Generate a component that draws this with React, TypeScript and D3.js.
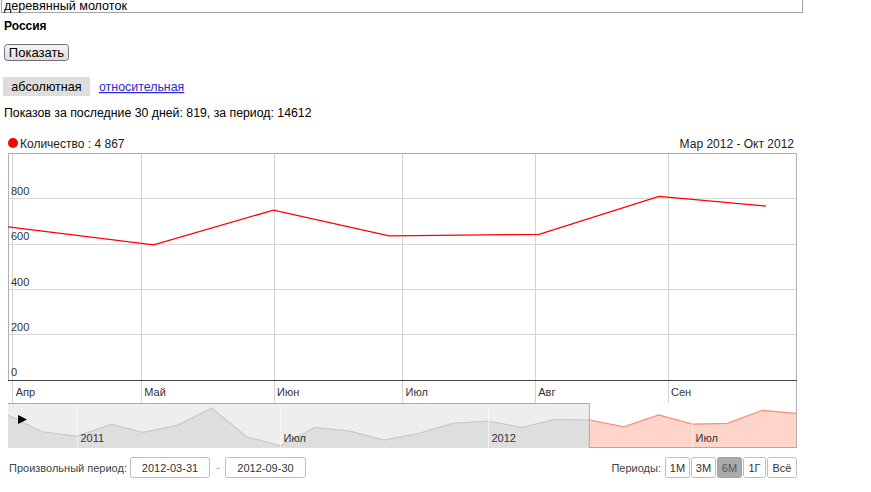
import React from 'react';
import * as d3 from 'd3';

// ---------- data ----------
const mainDates = ['2012-03-31', '2012-05-04', '2012-06-01', '2012-06-28', '2012-08-02', '2012-08-30', '2012-09-24'];
const mainValues = [674, 595, 748, 634, 641, 809, 766];
const yTicks = [0, 200, 400, 600, 800];
const monthTickDates = ['2012-04-01', '2012-05-01', '2012-06-01', '2012-07-01', '2012-08-01', '2012-09-01'];
const monthTickLabels = ['Апр', 'Май', 'Июн', 'Июл', 'Авг', 'Сен'];

const navDates = [
  '2010-11-01', '2010-12-01', '2011-01-01', '2011-02-01', '2011-03-01', '2011-04-01',
  '2011-05-01', '2011-06-01', '2011-07-01', '2011-08-01', '2011-09-01', '2011-10-01',
  '2011-11-01', '2011-12-01', '2012-01-01', '2012-02-01', '2012-03-01', '2012-04-01',
  '2012-05-01', '2012-06-01', '2012-07-01', '2012-08-01', '2012-09-01', '2012-10-01',
];
const navValues = [739, 521, 465, 617, 513, 608, 826, 456, 338, 578, 530, 413, 500, 631, 661, 578, 683, 674, 586, 739, 621, 631, 800, 761];
const navTickDates = ['2011-01-01', '2011-07-01', '2012-01-01', '2012-07-01'];
const navTickLabels = ['2011', 'Июл', '2012', 'Июл'];

const periodButtons = ['1М', '3М', '6М', '1Г', 'Всё'];
const selectedPeriod = '6М';

const parse = (s: string) => {
  const [y, m, d] = s.split('-').map(Number);
  return new Date(y, m - 1, d);
};

const FONT = '"Liberation Sans", Arial, sans-serif';

export default function App() {
  const L = 8, R = 796, T = 153, B = 380;
  const navT = 403, navB = 448;

  const x = d3.scaleTime().domain([parse('2012-03-31'), parse('2012-10-01')]).range([L, R]);
  const y = d3.scaleLinear().domain([0, 1000]).range([B - 0.3, T]);

  const navX = d3.scaleTime().domain([parse('2010-11-01'), parse('2012-10-01')]).range([L, R]);
  const navY = d3.scaleLinear().domain([310, 895]).range([navB, navT]);

  const mainPts = mainDates.map((d, i) => ({ d: parse(d), v: mainValues[i] }));
  const navPts = navDates.map((d, i) => ({ d: parse(d), v: navValues[i] }));

  const line = d3.line<{ d: Date; v: number }>().x(p => x(p.d)).y(p => y(p.v));
  const navLine = d3.line<{ d: Date; v: number }>().x(p => navX(p.d)).y(p => navY(p.v));
  const navArea = d3.area<{ d: Date; v: number }>().x(p => navX(p.d)).y0(navB).y1(p => navY(p.v));

  const selX = navX(parse('2012-03-31'));

  // period buttons layout
  const btnW = [24, 24, 24, 22, 29];
  let bx = 665.5;
  const btns = periodButtons.map((t, i) => {
    const o = { t, x: bx, w: btnW[i] };
    bx += btnW[i] + 2;
    return o;
  });

  return (
    <div style={{ position: 'absolute', left: 0, top: 0 }}>
      <svg width={871} height={492} style={{ display: 'block', fontFamily: FONT }}>
        <defs>
          <linearGradient id="btnGrad" x1="0" y1="0" x2="0" y2="1">
            <stop offset="0" stopColor="#f6f6f6" />
            <stop offset="1" stopColor="#dddddd" />
          </linearGradient>
          <clipPath id="navLeft"><rect x={L} y={navT} width={selX - L} height={navB - navT} /></clipPath>
          <clipPath id="navRight"><rect x={selX} y={navT} width={R - selX} height={navB - navT} /></clipPath>
          <clipPath id="plotClip"><rect x={L} y={T} width={R - L} height={B - T} /></clipPath>
        </defs>
        <rect x={0} y={0} width={871} height={492} fill="#fff" />

        {/* search input */}
        <rect x={1.5} y={-12} width={801} height={24.5} fill="#fff" stroke="#a5a5a5" />
        <text x={4} y={10} fontSize={12.6} fill="#000">деревянный молоток</text>
        <text x={4} y={30} fontSize={12} fontWeight="bold" fill="#000">Россия</text>

        {/* button */}
        <rect x={4.5} y={44.5} width={64} height={16} rx={3} fill="url(#btnGrad)" stroke="#707070" />
        <text x={36.5} y={57} fontSize={13} textAnchor="middle" fill="#000">Показать</text>

        {/* tabs */}
        <rect x={3} y={77} width={87} height={19} fill="#dddddd" />
        <text x={46.5} y={91} fontSize={12.6} textAnchor="middle" fill="#000">абсолютная</text>
        <text x={99} y={91} fontSize={12.4} fill="#2a2acc" textDecoration="underline">относительная</text>

        <text x={4} y={117} fontSize={12.3} fill="#000">Показов за последние 30 дней: 819, за период: 14612</text>

        {/* legend */}
        <circle cx={13} cy={143} r={5} fill="#ff0000" />
        <text x={20} y={148} fontSize={12} fill="#222">Количество : 4 867</text>
        <text x={794} y={148} fontSize={12} fill="#222" textAnchor="end">Мар 2012 - Окт 2012</text>

        {/* grid */}
        {yTicks.filter(t => t > 0).map(t => (
          <line key={'hy' + t} x1={L} x2={R} y1={Math.round(y(t)) + 0.5} y2={Math.round(y(t)) + 0.5} stroke="#d8d8d8" />
        ))}
        {monthTickDates.map(d => {
          const xx = Math.round(x(parse(d))) + 0.5;
          return <line key={'vx' + d} x1={xx} x2={xx} y1={T} y2={navT} stroke="#d4d4d4" />;
        })}

        {/* plot border */}
        <rect x={L + 0.5} y={T + 0.5} width={R - L} height={B - T} fill="none" stroke="#b0b0b0" />
        <line x1={R + 0.5} x2={R + 0.5} y1={B} y2={navB} stroke="#b0b0b0" />

        {/* y labels */}
        {yTicks.map(t => (
          <text key={'yl' + t} x={11} y={y(t) - 3.5} fontSize={11} fill="#333">{t}</text>
        ))}

        {/* series */}
        <path d={line(mainPts) || ''} fill="none" stroke="#ff0000" strokeWidth={1.3} clipPath="url(#plotClip)" />

        {/* x axis */}
        <line x1={L} x2={R + 1} y1={B + 0.5} y2={B + 0.5} stroke="#444" />
        {monthTickDates.map((d, i) => (
          <text key={'xl' + d} x={x(parse(d)) + 3.5} y={396} fontSize={11} fill="#333">{monthTickLabels[i]}</text>
        ))}

        {/* navigator */}
        <g clipPath="url(#navLeft)">
          <rect x={L} y={navT} width={selX - L} height={navB - navT} fill="#eeeeee" />
          <path d={navArea(navPts) || ''} fill="#dedede" />
          <path d={navLine(navPts) || ''} fill="none" stroke="#c9c9c9" strokeWidth={1.2} />
        </g>
        <g clipPath="url(#navRight)">
          <path d={navArea(navPts) || ''} fill="#ffd4ca" />
          <path d={navLine(navPts) || ''} fill="none" stroke="#fb8d78" strokeWidth={1.2} />
        </g>
        {navTickDates.map((d, i) => {
          const xx = Math.round(navX(parse(d))) + 0.5;
          return (
            <g key={'nt' + d}>
              <line x1={xx} x2={xx} y1={navT} y2={navB} stroke="#ffffff" strokeOpacity={0.55} />
              <text x={xx + 3} y={442} fontSize={11} fill="#333">{navTickLabels[i]}</text>
            </g>
          );
        })}
        <line x1={L} x2={selX} y1={navT + 0.5} y2={navT + 0.5} stroke="#aaaaaa" />
        <line x1={selX + 0.5} x2={selX + 0.5} y1={navT} y2={navB} stroke="#aaaaaa" />
        <line x1={selX} x2={R + 1} y1={navB - 0.5} y2={navB - 0.5} stroke="#aaaaaa" />
        <path d={`M18,415 L27,419.5 L18,424 Z`} fill="#000" />

        {/* bottom controls */}
        <text x={9} y={472} fontSize={11} fill="#444">Произвольный период:</text>
        <rect x={130.5} y={457.5} width={79} height={20} rx={2} fill="#fff" stroke="#bdbdbd" />
        <text x={170} y={472} fontSize={11} fill="#333" textAnchor="middle">2012-03-31</text>
        <text x={218} y={471} fontSize={11} fill="#999" textAnchor="middle">-</text>
        <rect x={225.5} y={457.5} width={80} height={20} rx={2} fill="#fff" stroke="#bdbdbd" />
        <text x={265.5} y={472} fontSize={11} fill="#333" textAnchor="middle">2012-09-30</text>

        <text x={661} y={472} fontSize={11} fill="#444" textAnchor="end">Периоды:</text>
        {btns.map(b => (
          <g key={b.t}>
            <rect x={b.x} y={457.5} width={b.w} height={20} rx={2}
              fill={b.t === selectedPeriod ? '#aaaaaa' : '#fff'} stroke={b.t === selectedPeriod ? '#a0a0a0' : '#bdbdbd'} />
            <text x={b.x + b.w / 2} y={472} fontSize={11} textAnchor="middle" fill={b.t === selectedPeriod ? '#555' : '#333'}>{b.t}</text>
          </g>
        ))}
      </svg>
    </div>
  );
}
